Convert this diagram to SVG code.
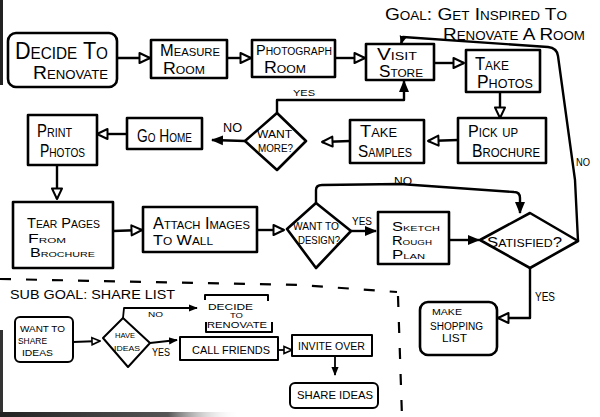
<svg xmlns="http://www.w3.org/2000/svg" width="600" height="417" viewBox="0 0 600 417">
<style>
.n rect, .n polygon { fill:#fff; stroke:#000; stroke-width:2.6; stroke-linejoin:round }
.s rect, .s polygon, .s path { fill:#fff; stroke:#000; stroke-width:2; stroke-linejoin:round }
.s path.br { fill:none }
text { font-family:"Liberation Sans", Arial, sans-serif; fill:#000 }
.sc { font-variant:small-caps }
.c path { fill:none; stroke:#000; stroke-width:2.4; stroke-linejoin:round }
.c path.t { stroke-width:1.8 }
.d { fill:none; stroke:#000; stroke-width:2.2; stroke-dasharray:11 15 }
</style>
<defs>
<marker id="h" viewBox="0 0 14 14" refX="12" refY="6.5" markerWidth="14" markerHeight="14" markerUnits="userSpaceOnUse" orient="auto"><path d="M1.5,1.5 L12,6.5 L1.5,11.5 Z" fill="#fff" stroke="#000" stroke-width="2" stroke-linejoin="round"/></marker>
<marker id="hs" viewBox="0 0 10 10" refX="9" refY="5" markerWidth="10" markerHeight="10" markerUnits="userSpaceOnUse" orient="auto"><path d="M1,1.5 L9,5 L1,8.5 Z" fill="#fff" stroke="#000" stroke-width="1.6"/></marker>
<marker id="f" viewBox="0 0 12 12" refX="11" refY="6" markerWidth="12" markerHeight="12" markerUnits="userSpaceOnUse" orient="auto"><path d="M0,1 L12,6 L0,11 Z"/></marker>
<marker id="fs" viewBox="0 0 10 10" refX="9" refY="5" markerWidth="9" markerHeight="9" markerUnits="userSpaceOnUse" orient="auto"><path d="M0,1 L10,5 L0,9 Z"/></marker>
<linearGradient id="bot" x1="0" y1="0" x2="1" y2="0"><stop offset="0" stop-color="#222"/><stop offset="0.7" stop-color="#555"/><stop offset="1" stop-color="#fff" stop-opacity="0"/></linearGradient>
</defs>
<rect width="600" height="417" fill="#fff"/>
<!-- photo edges -->
<path d="M1.5,0 L1.5,85" stroke="#222" stroke-width="3"/>
<path d="M1.5,330 L1.5,417" stroke="#333" stroke-width="3"/>
<rect x="0" y="412" width="240" height="5" fill="url(#bot)"/>

<g id="goal">
<text class="sc" x="385" y="20" font-size="17" textLength="182" lengthAdjust="spacingAndGlyphs">Goal: Get Inspired To</text>
<text class="sc" x="443" y="40" font-size="17" textLength="142" lengthAdjust="spacingAndGlyphs">Renovate A Room</text>
</g>

<g class="c">
<path d="M117,58 L150,58" marker-end="url(#h)"/>
<path d="M227,58 L251,58" marker-end="url(#h)"/>
<path d="M335,58 L365,58" marker-end="url(#h)"/>
<path d="M434,63 L464,63" marker-end="url(#h)"/>
<path d="M500,92 L500,118" marker-end="url(#h)"/>
<path d="M458,140 L428,141" marker-end="url(#h)"/>
<path d="M350,141 L322,142" marker-end="url(#h)"/>
<path d="M277,113 L277,100 L404,100 L404,81" marker-end="url(#f)"/>
<path d="M245,141 L212,140" marker-end="url(#f)"/>
<path d="M127,134 L97,134" marker-end="url(#h)"/>
<path d="M57,165 L57,199" marker-end="url(#h)"/>
<path d="M113,231 L142,230" marker-end="url(#h)"/>
<path d="M257,230 L284,230" marker-end="url(#h)"/>
<path d="M351,231 L376,231" marker-end="url(#f)"/>
<path d="M316,203 L316,190 Q316,185 322,185 L400,184 L514,192 Q520,192 520,198 L520,213" marker-end="url(#f)"/>
<path d="M449,240 L479,240" marker-end="url(#f)"/>
<path d="M578,241 L575,180 L558,56 Q557,48 548,47 L403,37 L401,44" marker-end="url(#fs)"/>
<path d="M530,268 L530,318 L498,318" marker-end="url(#h)"/>
<path class="t" d="M73,342 L100,341" marker-end="url(#hs)"/>
<path class="t" d="M123,318 L124,308 L197,308" marker-end="url(#fs)"/>
<path class="t" d="M150,343 L177,340" marker-end="url(#fs)"/>
<path class="t" d="M278,350 L292,350" marker-end="url(#hs)"/>
<path class="t" d="M335,356 L335,375" marker-end="url(#fs)"/>
</g>

<g id="labels">
<text x="293" y="96" font-size="9" textLength="22" lengthAdjust="spacingAndGlyphs">YES</text>
<text x="223" y="132" font-size="12" textLength="19" lengthAdjust="spacingAndGlyphs">NO</text>
<text x="352" y="225" font-size="10" textLength="20" lengthAdjust="spacingAndGlyphs">YES</text>
<text x="394" y="185" font-size="11" textLength="18" lengthAdjust="spacingAndGlyphs">NO</text>
<text x="576" y="166" font-size="11" textLength="14" lengthAdjust="spacingAndGlyphs">NO</text>
<text x="535" y="301" font-size="12" textLength="20" lengthAdjust="spacingAndGlyphs">YES</text>
<text x="148" y="317" font-size="7" textLength="15" lengthAdjust="spacingAndGlyphs">NO</text>
<text x="152" y="356" font-size="10" textLength="18" lengthAdjust="spacingAndGlyphs">YES</text>
</g>

<g id="decide" class="n">
<rect x="8" y="33" width="109" height="54" rx="8"/>
<text class="sc" x="15" y="59" font-size="24" textLength="93" lengthAdjust="spacingAndGlyphs">Decide To</text>
<text class="sc" x="33" y="79" font-size="19" textLength="75" lengthAdjust="spacingAndGlyphs">Renovate</text>
</g>
<g id="measure" class="n">
<rect x="151" y="40" width="76" height="38"/>
<text class="sc" x="160" y="56" font-size="16" textLength="60" lengthAdjust="spacingAndGlyphs">Measure</text>
<text class="sc" x="163" y="74" font-size="16" textLength="42" lengthAdjust="spacingAndGlyphs">Room</text>
</g>
<g id="photograph" class="n">
<rect x="252" y="40" width="83" height="37"/>
<text class="sc" x="256" y="55" font-size="14" textLength="76" lengthAdjust="spacingAndGlyphs">Photograph</text>
<text class="sc" x="264" y="73" font-size="16" textLength="42" lengthAdjust="spacingAndGlyphs">Room</text>
</g>
<g id="visit" class="n">
<rect x="366" y="44" width="68" height="36"/>
<text class="sc" x="377" y="60" font-size="16" textLength="40" lengthAdjust="spacingAndGlyphs">Visit</text>
<text class="sc" x="379" y="77" font-size="16" textLength="44" lengthAdjust="spacingAndGlyphs">Store</text>
</g>
<g id="takephotos" class="n">
<rect x="466" y="50" width="74" height="42"/>
<text class="sc" x="475" y="70" font-size="18" textLength="34" lengthAdjust="spacingAndGlyphs">Take</text>
<text class="sc" x="477" y="88" font-size="18" textLength="56" lengthAdjust="spacingAndGlyphs">Photos</text>
</g>
<g id="pickup" class="n">
<rect x="458" y="118" width="88" height="45"/>
<text class="sc" x="468" y="137" font-size="17" textLength="50" lengthAdjust="spacingAndGlyphs">Pick up</text>
<text class="sc" x="472" y="157" font-size="18" textLength="68" lengthAdjust="spacingAndGlyphs">Brochure</text>
</g>
<g id="samples" class="n">
<rect x="350" y="120" width="74" height="43"/>
<text class="sc" x="360" y="137" font-size="17" textLength="37" lengthAdjust="spacingAndGlyphs">Take</text>
<text class="sc" x="358" y="157" font-size="17" textLength="54" lengthAdjust="spacingAndGlyphs">Samples</text>
</g>
<g id="wantmore" class="n">
<polygon points="277,113 306,141 277,170 245,141"/>
<text x="257" y="138" font-size="11" textLength="35" lengthAdjust="spacingAndGlyphs">WANT</text>
<text x="258" y="152" font-size="11" textLength="35" lengthAdjust="spacingAndGlyphs">MORE?</text>
</g>
<g id="gohome" class="n">
<rect x="127" y="118" width="75" height="31"/>
<text class="sc" x="137" y="142" font-size="18" textLength="55" lengthAdjust="spacingAndGlyphs">Go Home</text>
</g>
<g id="print" class="n">
<rect x="28" y="115" width="69" height="50"/>
<text class="sc" x="37" y="137" font-size="18" textLength="35" lengthAdjust="spacingAndGlyphs">Print</text>
<text class="sc" x="40" y="157" font-size="18" textLength="45" lengthAdjust="spacingAndGlyphs">Photos</text>
</g>
<g id="tear" class="n">
<rect x="13" y="202" width="100" height="66"/>
<text class="sc" x="27" y="228" font-size="14" textLength="73" lengthAdjust="spacingAndGlyphs">Tear Pages</text>
<text class="sc" x="28" y="243" font-size="12" textLength="38" lengthAdjust="spacingAndGlyphs">From</text>
<text class="sc" x="30" y="257" font-size="12" textLength="65" lengthAdjust="spacingAndGlyphs">Brochure</text>
</g>
<g id="attach" class="n">
<rect x="143" y="207" width="114" height="45"/>
<text class="sc" x="153" y="229" font-size="16" textLength="97" lengthAdjust="spacingAndGlyphs">Attach Images</text>
<text class="sc" x="153" y="245" font-size="15" textLength="60" lengthAdjust="spacingAndGlyphs">To Wall</text>
</g>
<g id="wantdesign" class="n">
<polygon points="316,203 351,231 316,268 287,229"/>
<text x="293" y="230" font-size="10" textLength="46" lengthAdjust="spacingAndGlyphs">WANT TO</text>
<text x="298" y="244" font-size="11" textLength="42" lengthAdjust="spacingAndGlyphs">DESIGN?</text>
</g>
<g id="sketch" class="n">
<rect x="378" y="212" width="71" height="52"/>
<text class="sc" x="392" y="231" font-size="12" textLength="48" lengthAdjust="spacingAndGlyphs">Sketch</text>
<text class="sc" x="392" y="245" font-size="12" textLength="40" lengthAdjust="spacingAndGlyphs">Rough</text>
<text class="sc" x="392" y="259" font-size="12" textLength="33" lengthAdjust="spacingAndGlyphs">Plan</text>
</g>
<g id="satisfied" class="n">
<polygon points="530,213 578,241 530,268 480,240"/>
<text class="sc" x="487" y="247" font-size="15" textLength="75" lengthAdjust="spacingAndGlyphs">Satisfied?</text>
</g>
<g id="shopping" class="n">
<rect x="420" y="302" width="77" height="53" rx="8"/>
<text x="432" y="315" font-size="9" textLength="30" lengthAdjust="spacingAndGlyphs">MAKE</text>
<text x="430" y="330" font-size="10" textLength="53" lengthAdjust="spacingAndGlyphs">SHOPPING</text>
<text x="442" y="342" font-size="10" textLength="25" lengthAdjust="spacingAndGlyphs">LIST</text>
</g>

<g id="subgoal">
<path class="d" d="M0,279 L300,285 L397,292"/>
<path class="d" d="M398,296 L402,417"/>
<text x="10" y="299" font-size="12" textLength="165" lengthAdjust="spacingAndGlyphs">SUB GOAL: SHARE LIST</text>
</g>
<g id="wantshare" class="s">
<rect x="15" y="317" width="58" height="45" rx="5"/>
<text x="20" y="332" font-size="9" textLength="45" lengthAdjust="spacingAndGlyphs">WANT TO</text>
<text x="18" y="344" font-size="9" textLength="29" lengthAdjust="spacingAndGlyphs">SHARE</text>
<text x="22" y="356" font-size="9" textLength="31" lengthAdjust="spacingAndGlyphs">IDEAS</text>
</g>
<g id="haveideas" class="s">
<polygon points="123,318 150,343 128,367 103,338"/>
<text x="115" y="338" font-size="8" textLength="20" lengthAdjust="spacingAndGlyphs">HAVE</text>
<text x="114" y="351" font-size="8" textLength="26" lengthAdjust="spacingAndGlyphs">IDEAS</text>
</g>
<g id="decide2" class="s">
<path class="br" d="M205,300 L205,295 L268,295 L268,301"/>
<path class="br" d="M206,322 L206,332 L272,332 L272,322"/>
<text x="208" y="310" font-size="9" textLength="45" lengthAdjust="spacingAndGlyphs">DECIDE</text>
<text x="230" y="318" font-size="7" textLength="13" lengthAdjust="spacingAndGlyphs">TO</text>
<text x="207" y="328" font-size="9" textLength="60" lengthAdjust="spacingAndGlyphs">RENOVATE</text>
</g>
<g id="callfriends" class="s">
<rect x="180" y="337" width="98" height="23"/>
<text x="192" y="354" font-size="11" textLength="78" lengthAdjust="spacingAndGlyphs">CALL FRIENDS</text>
</g>
<g id="invite" class="s">
<rect x="292" y="335" width="80" height="21"/>
<text x="298" y="350" font-size="10" textLength="67" lengthAdjust="spacingAndGlyphs">INVITE OVER</text>
</g>
<g id="shareideas" class="s">
<rect x="290" y="383" width="88" height="25" rx="5"/>
<text x="297" y="399" font-size="11" textLength="76" lengthAdjust="spacingAndGlyphs">SHARE IDEAS</text>
</g>
</svg>
